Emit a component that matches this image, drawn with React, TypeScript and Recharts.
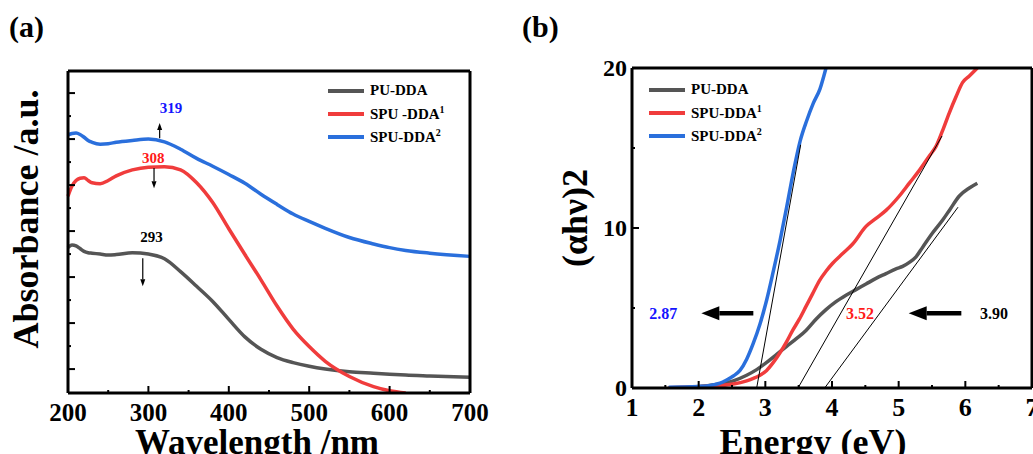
import { LineChart, Line, XAxis, YAxis, ReferenceLine, ReferenceDot } from "recharts";

const FONT = '"Liberation Serif", "Times New Roman", serif';
const GRAY = "#555555";
const RED = "#f03c3c";
const BLUE = "#2a6fdc";

// panel (a): UV-vis absorbance
const wavelengths = [200, 205, 210, 215, 220, 225, 230, 240, 250, 260, 280, 300, 320, 340, 360, 380, 400, 420, 440, 460, 480, 500, 520, 550, 580, 600, 620, 650, 700];
const absPU = [3.64, 3.7, 3.68, 3.62, 3.56, 3.53, 3.52, 3.5, 3.48, 3.49, 3.53, 3.5, 3.4, 3.12, 2.8, 2.47, 2.08, 1.7, 1.43, 1.25, 1.14, 1.06, 1.0, 0.94, 0.91, 0.89, 0.87, 0.85, 0.82];
const absSPU1 = [4.76, 4.98, 5.1, 5.15, 5.16, 5.1, 5.05, 5.03, 5.1, 5.2, 5.33, 5.39, 5.4, 5.33, 5.05, 4.62, 4.05, 3.49, 2.94, 2.37, 1.87, 1.49, 1.17, 0.84, 0.62, 0.53, 0.48, null, null];
const absSPU2 = [6.09, 6.12, 6.13, 6.1, 6.04, 5.97, 5.93, 5.89, 5.9, 5.93, 5.97, 6.0, 5.94, 5.78, 5.58, 5.41, 5.23, 5.04, 4.8, 4.58, 4.37, 4.21, 4.06, 3.86, 3.72, 3.64, 3.58, 3.52, 3.45];
const wavelengthTicks = [200, 250, 300, 350, 400, 450, 500, 550, 600, 650, 700];
const absTicks = [1, 1.5, 2, 2.5, 3, 3.5, 4, 4.5, 5, 5.5, 6, 6.5, 7];
const peakLabels = [
  { x: 328, y: 6.67, text: "319", color: "#1414ff" },
  { x: 306, y: 5.59, text: "308", color: "#ff1a1a" },
  { x: 304, y: 3.87, text: "293", color: "#000000" },
];
const peakArrows = [
  { x: 314, from: 6.02, to: 6.35 },
  { x: 307, from: 5.37, to: 4.93 },
  { x: 293, from: 3.41, to: 2.8 },
];

// panel (b): Tauc plot
const energyPU = [1.55, 2.0, 2.32, 2.52, 2.72, 2.87, 3.02, 3.17, 3.32, 3.47, 3.61, 3.76, 3.91, 4.06, 4.21, 4.36, 4.51, 4.66, 4.81, 4.96, 5.06, 5.16, 5.26, 5.36, 5.51, 5.66, 5.76, 5.91, 6.06, 6.18];
const taucPU = [0.02, 0.1, 0.25, 0.45, 0.8, 1.15, 1.6, 2.1, 2.6, 3.1, 3.6, 4.3, 4.9, 5.4, 5.8, 6.15, 6.5, 6.85, 7.15, 7.45, 7.6, 7.85, 8.2, 8.8, 9.7, 10.5, 11.1, 12.0, 12.5, 12.8];
const energySPU1 = [1.55, 2.0, 2.32, 2.52, 2.72, 2.82, 2.92, 3.02, 3.12, 3.22, 3.32, 3.41, 3.51, 3.61, 3.71, 3.81, 3.91, 4.01, 4.16, 4.31, 4.51, 4.66, 4.81, 5.01, 5.16, 5.31, 5.46, 5.56, 5.66, 5.76, 5.86, 5.96, 6.06, 6.18];
const taucSPU1 = [0.02, 0.08, 0.15, 0.25, 0.45, 0.6, 0.8, 1.1, 1.6, 2.2, 2.9, 3.6, 4.3, 5.1, 5.9, 6.7, 7.3, 7.8, 8.4, 9.0, 10.1, 10.6, 11.1, 12.0, 12.8, 13.6, 14.5, 15.1, 16.1, 17.2, 18.2, 19.1, 19.5, 20];
const energySPU2 = [1.55, 1.8, 2.0, 2.12, 2.22, 2.32, 2.42, 2.52, 2.62, 2.72, 2.82, 2.92, 3.02, 3.12, 3.22, 3.32, 3.42, 3.52, 3.62, 3.72, 3.82, 3.91];
const taucSPU2 = [0.05, 0.07, 0.1, 0.12, 0.2, 0.3, 0.5, 0.75, 1.1, 1.8, 2.8, 4.0, 5.5, 7.3, 9.2, 11.3, 13.5, 15.4, 16.7, 17.8, 18.7, 20];
const energyTicks = [1, 1.5, 2, 2.5, 3, 3.5, 4, 4.5, 5, 5.5, 6, 6.5, 7];
const taucTicks = [0, 5, 10, 15, 20];
const tangents = [
  { x1: 2.87, y1: 0, x2: 3.53, y2: 15.2 },
  { x1: 3.49, y1: 0, x2: 5.65, y2: 15.75 },
  { x1: 3.89, y1: 0, x2: 5.89, y2: 11.3 },
];
const gapLabels = [
  { x: 1.47, y: 4.67, text: "2.87", color: "#1414ff" },
  { x: 4.42, y: 4.67, text: "3.52", color: "#ff1a1a" },
  { x: 6.43, y: 4.67, text: "3.90", color: "#000000" },
];
const gapArrows = [
  { from: 2.82, to: 2.04, y: 4.67 },
  { from: 5.94, to: 5.15, y: 4.67 },
];

const seriesA = wavelengths.map((w, i) => ({ w, pu: absPU[i], spu1: absSPU1[i], spu2: absSPU2[i] }));
const seriesPU = energyPU.map((e, i) => ({ e, v: taucPU[i] }));
const seriesSPU1 = energySPU1.map((e, i) => ({ e, v: taucSPU1[i] }));
const seriesSPU2 = energySPU2.map((e, i) => ({ e, v: taucSPU2[i] }));

const arrowShape = (w: number, headLen: number, headW: number) => (p: any) => {
  const { x1, y1, x2, y2 } = p;
  const dx = x2 - x1;
  const dy = y2 - y1;
  const len = Math.hypot(dx, dy) || 1;
  const ux = dx / len;
  const uy = dy / len;
  const bx = x2 - ux * headLen;
  const by = y2 - uy * headLen;
  const px = -uy * headW / 2;
  const py = ux * headW / 2;
  return (
    <g>
      <line x1={x1} y1={y1} x2={bx} y2={by} stroke="#000" strokeWidth={w} />
      <polygon points={`${x2},${y2} ${bx + px},${by + py} ${bx - px},${by - py}`} fill="#000" />
    </g>
  );
};

const textShape = (text: string, color: string, size: number) => (p: any) => (
  <text x={p.cx} y={p.cy} textAnchor="middle" dominantBaseline="central" fontFamily={FONT} fontWeight="bold" fontSize={size} fill={color}>
    {text}
  </text>
);

function XTick(props: any) {
  const { x, y, payload, isMajor, size } = props;
  const v = payload.value;
  const major = isMajor(v);
  return (
    <g>
      <line x1={x} y1={y} x2={x} y2={y - (major ? 7 : 3)} stroke="#000" strokeWidth={2} />
      {major && (
        <text x={x} y={y + 28} textAnchor="middle" fontFamily={FONT} fontWeight="bold" fontSize={size} fill="#000">
          {v}
        </text>
      )}
    </g>
  );
}

function YTick(props: any) {
  const { x, y, payload, isMajor, showLabel } = props;
  const v = payload.value;
  const major = isMajor(v);
  return (
    <g>
      <line x1={x} y1={y} x2={x + (major ? 7 : 3)} y2={y} stroke="#000" strokeWidth={2} />
      {major && showLabel && (
        <text x={x - 5} y={y + 8} textAnchor="end" fontFamily={FONT} fontWeight="bold" fontSize={24} fill="#000">
          {v}
        </text>
      )}
    </g>
  );
}

function LegendBox({ left, top, items }: { left: number; top: number; items: { name: string; sup?: string; color: string }[] }) {
  return (
    <div style={{ position: "absolute", left, top, fontFamily: FONT, fontWeight: "bold", fontSize: 15 }}>
      {items.map((it) => (
        <div key={it.name + it.color} style={{ display: "flex", alignItems: "center", height: 23 }}>
          <span style={{ display: "inline-block", width: 36, height: 4, background: it.color, marginRight: 6 }} />
          <span>
            {it.name}
            {it.sup && <sup style={{ fontSize: 10 }}>{it.sup}</sup>}
          </span>
        </div>
      ))}
    </div>
  );
}

const frame = { stroke: "#000", strokeWidth: 3 };

export default function App() {
  return (
    <div style={{ position: "fixed", left: 0, top: 0, width: 1033, height: 454, overflow: "hidden", background: "#fff" }}>
      <div style={{ position: "absolute", left: 9, top: 10, fontFamily: FONT, fontWeight: "bold", fontSize: 30 }}>(a)</div>
      <div style={{ position: "absolute", left: 522, top: 10, fontFamily: FONT, fontWeight: "bold", fontSize: 30 }}>(b)</div>

      <div style={{ position: "absolute", left: 0, top: 0 }}>
        <LineChart width={520} height={454} data={seriesA} margin={{ top: 70, right: 49, bottom: 60, left: 67 }}>
          <XAxis
            dataKey="w"
            type="number"
            domain={[200, 700]}
            ticks={wavelengthTicks}
            interval={0}
            height={1}
            tickSize={0}
            tickMargin={0}
            tickLine={false}
            axisLine={frame}
            tick={(p: any) => <XTick {...p} size={25} isMajor={(v: number) => v % 100 === 0} />}
            label={{
              content: ({ viewBox }: any) => (
                <text x={viewBox.x + viewBox.width / 2 - 12} y={454} textAnchor="middle" fontFamily={FONT} fontWeight="bold" fontSize={35} fill="#000">
                  Wavelength /nm
                </text>
              ),
            }}
          />
          <XAxis xAxisId="top" orientation="top" type="number" domain={[200, 700]} height={1} tick={false} tickLine={false} axisLine={frame} />
          <YAxis
            type="number"
            domain={[0.48, 7.48]}
            ticks={absTicks}
            interval={0}
            width={1}
            tickSize={0}
            tickMargin={0}
            tickLine={false}
            axisLine={frame}
            allowDataOverflow
            tick={(p: any) => <YTick {...p} showLabel={false} isMajor={(v: number) => Number.isInteger(v)} />}
            label={{
              content: ({ viewBox }: any) => {
                const cx = 38;
                const cy = viewBox.y + viewBox.height / 2 - 13;
                return (
                  <text x={cx} y={cy} transform={`rotate(-90 ${cx} ${cy})`} textAnchor="middle" fontFamily={FONT} fontWeight="bold" fontSize={36} fill="#000">
                    Absorbance /a.u.
                  </text>
                );
              },
            }}
          />
          <YAxis yAxisId="right" orientation="right" type="number" domain={[0.48, 7.48]} width={1} tick={false} tickLine={false} axisLine={frame} />
          <Line type="monotone" dataKey="pu" stroke={GRAY} strokeWidth={3.5} dot={false} isAnimationActive={false} />
          <Line type="monotone" dataKey="spu1" stroke={RED} strokeWidth={3.5} dot={false} isAnimationActive={false} />
          <Line type="monotone" dataKey="spu2" stroke={BLUE} strokeWidth={3.5} dot={false} isAnimationActive={false} />
          {peakArrows.map((a) => (
            <ReferenceLine key={a.x} segment={[{ x: a.x, y: a.from }, { x: a.x, y: a.to }]} shape={arrowShape(1.2, 7, 5)} />
          ))}
          {peakLabels.map((l) => (
            <ReferenceDot key={l.text} x={l.x} y={l.y} r={0} shape={textShape(l.text, l.color, 15)} />
          ))}
        </LineChart>
        <LegendBox
          left={328}
          top={79}
          items={[
            { name: "PU-DDA", color: GRAY },
            { name: "SPU -DDA", sup: "1", color: RED },
            { name: "SPU-DDA", sup: "2", color: BLUE },
          ]}
        />
      </div>

      <div style={{ position: "absolute", left: 520, top: 0 }}>
        <LineChart width={513} height={454} margin={{ top: 67, right: 0, bottom: 65, left: 111 }}>
          <XAxis
            dataKey="e"
            type="number"
            domain={[1, 7]}
            ticks={energyTicks}
            interval={0}
            height={1}
            tickSize={0}
            tickMargin={0}
            tickLine={false}
            axisLine={frame}
            tick={(p: any) => <XTick {...p} size={26} isMajor={(v: number) => Number.isInteger(v)} />}
            label={{
              content: ({ viewBox }: any) => (
                <text x={viewBox.x + viewBox.width / 2 - 19} y={454} textAnchor="middle" fontFamily={FONT} fontWeight="bold" fontSize={36} fill="#000">
                  Energy (eV)
                </text>
              ),
            }}
          />
          <XAxis xAxisId="top" orientation="top" type="number" domain={[1, 7]} height={1} tick={false} tickLine={false} axisLine={frame} />
          <YAxis
            type="number"
            domain={[0, 20]}
            ticks={taucTicks}
            interval={0}
            width={1}
            tickSize={0}
            tickMargin={0}
            tickLine={false}
            axisLine={frame}
            allowDataOverflow
            tick={(p: any) => <YTick {...p} showLabel isMajor={(v: number) => v % 10 === 0} />}
            label={{
              content: ({ viewBox }: any) => {
                const cx = 67;
                const cy = viewBox.y + viewBox.height / 2 - 10;
                return (
                  <text x={cx} y={cy} transform={`rotate(-90 ${cx} ${cy})`} textAnchor="middle" fontFamily={FONT} fontWeight="bold" fontSize={36} fill="#000">
                    (αhν)2
                  </text>
                );
              },
            }}
          />
          <YAxis yAxisId="right" orientation="right" type="number" domain={[0, 20]} width={1} tick={false} tickLine={false} axisLine={frame} />
          <Line data={seriesPU} type="monotone" dataKey="v" stroke={GRAY} strokeWidth={3.5} dot={false} isAnimationActive={false} />
          <Line data={seriesSPU1} type="monotone" dataKey="v" stroke={RED} strokeWidth={3.5} dot={false} isAnimationActive={false} />
          <Line data={seriesSPU2} type="monotone" dataKey="v" stroke={BLUE} strokeWidth={3.5} dot={false} isAnimationActive={false} />
          {tangents.map((t) => (
            <ReferenceLine key={t.x1} segment={[{ x: t.x1, y: t.y1 }, { x: t.x2, y: t.y2 }]} stroke="#000" strokeWidth={1} />
          ))}
          {gapArrows.map((a) => (
            <ReferenceLine key={a.from} segment={[{ x: a.from, y: a.y }, { x: a.to, y: a.y }]} shape={arrowShape(4.5, 18, 14)} />
          ))}
          {gapLabels.map((l) => (
            <ReferenceDot key={l.text} x={l.x} y={l.y} r={0} shape={textShape(l.text, l.color, 16)} />
          ))}
        </LineChart>
        <LegendBox
          left={129}
          top={78}
          items={[
            { name: "PU-DDA", color: GRAY },
            { name: "SPU-DDA", sup: "1", color: RED },
            { name: "SPU-DDA", sup: "2", color: BLUE },
          ]}
        />
      </div>
    </div>
  );
}
